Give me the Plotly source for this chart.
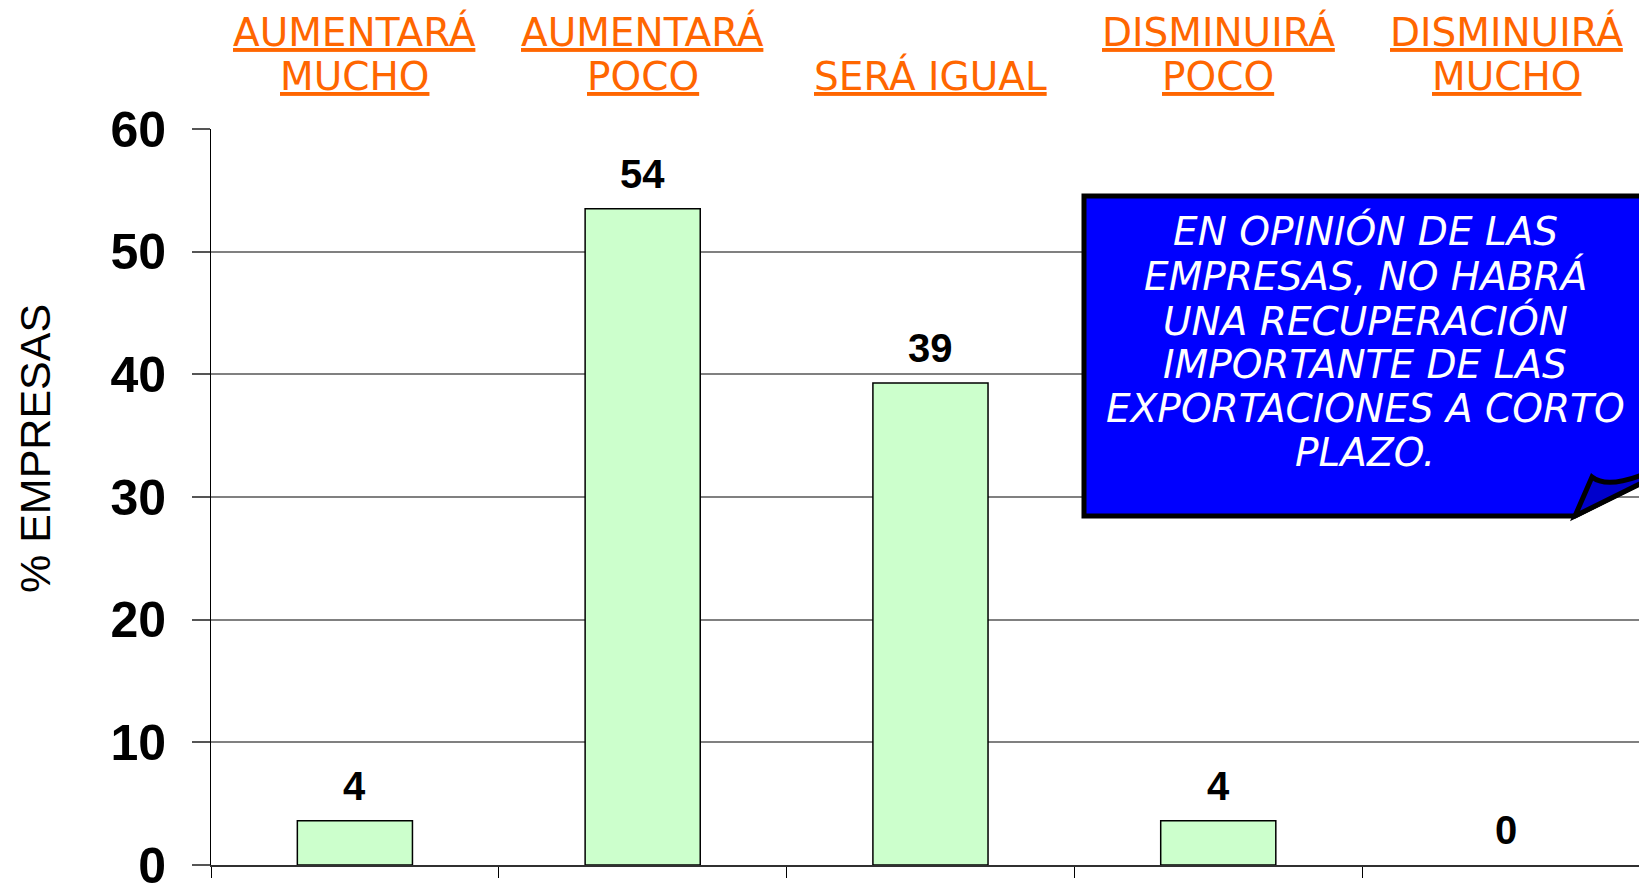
import plotly.graph_objects as go

# ---------------- data ----------------
categories = ["AUMENTARÁ MUCHO", "AUMENTARÁ POCO", "SERÁ IGUAL", "DISMINUIRÁ POCO", "DISMINUIRÁ MUCHO"]
header_line1 = ["AUMENTARÁ", "AUMENTARÁ", "", "DISMINUIRÁ", "DISMINUIRÁ"]
header_line2 = ["MUCHO", "POCO", "SERÁ IGUAL", "POCO", "MUCHO"]
values = [3.6, 53.5, 39.3, 3.6, 0.0]
value_labels = ["4", "54", "39", "4", "0"]
y_ticks = [0, 10, 20, 30, 40, 50, 60]
y_title = "% EMPRESAS"
note_lines = [
    "EN OPINIÓN DE LAS",
    "EMPRESAS, NO HABRÁ",
    "UNA RECUPERACIÓN",
    "IMPORTANTE DE LAS",
    "EXPORTACIONES A CORTO",
    "PLAZO.",
]

# ---------------- layout helpers ----------------
W, H = 1639, 883
L, R, T, B = 211, 0, 129, 18
PW, PH = W - L - R, H - T - B


def px(x):
    return (x - L) / PW


def py(y):
    return (H - B - y) / PH


def path(points, closed=True):
    s = ""
    for i, p in enumerate(points):
        if p[0] == "Q":
            s += f" Q {px(p[1]):.5f},{py(p[2]):.5f} {px(p[3]):.5f},{py(p[4]):.5f}"
        else:
            s += (" M " if i == 0 else " L ") + f"{px(p[0]):.5f},{py(p[1]):.5f}"
    return s + (" Z" if closed else "")


ORANGE = "#FF6600"

fig = go.Figure()
fig.add_trace(go.Bar(
    x=categories, y=values, width=0.4,
    marker=dict(color="#CCFFCC",
                line=dict(color="black", width=[1.5 if v > 0 else 0 for v in values])),
    hoverinfo="skip",
))

annotations = []
# value labels
for c, v, t in zip(categories, values, value_labels):
    annotations.append(dict(
        x=c, y=v, xref="x", yref="y", text=t, showarrow=False,
        yanchor="middle", yshift=35,
        font=dict(family="Liberation Sans, Arial", size=40, color="black", weight="bold"),
    ))
# header labels
for c, l1, l2 in zip(categories, header_line1, header_line2):
    for txt, base in ((l1, 46), (l2, 90)):
        if not txt:
            continue
        annotations.append(dict(
            x=c, y=py(base - 13.8), xref="x", yref="paper", text=f"<u>{txt}</u>",
            showarrow=False, xanchor="center", yanchor="middle",
            font=dict(family="DejaVu Sans", size=39, color=ORANGE),
        ))
# y title
annotations.append(dict(
    x=px(35), y=py(449), xref="paper", yref="paper", text=y_title, textangle=-90,
    showarrow=False, xanchor="center", yanchor="middle",
    font=dict(family="Liberation Sans, Arial", size=43, color="black"),
))
# callout text
note_baselines = [245, 289.5, 334, 378, 422, 466]
for line, base in zip(note_lines, note_baselines):
    annotations.append(dict(
        x=px(1365), y=py(base - 13.5), xref="paper", yref="paper", text=line,
        showarrow=False, xanchor="center", yanchor="middle",
        font=dict(family="DejaVu Sans", size=39, color="white", style="italic"),
    ))

shapes = [
    dict(type="path", xref="paper", yref="paper", layer="above",
         path=path([(1084, 196), (1665, 196), (1665, 471), (1575, 516), (1084, 516)]),
         fillcolor="#0000FF", line=dict(color="black", width=5)),
    dict(type="path", xref="paper", yref="paper", layer="above",
         path=path([(1575, 516), (1592, 477), ("Q", 1606, 488, 1639, 476), (1668, 470)]),
         fillcolor="#0000CC", line=dict(color="black", width=5)),
]

fig.update_layout(
    width=W, height=H,
    margin=dict(l=L, r=R, t=T, b=B, autoexpand=False),
    paper_bgcolor="white", plot_bgcolor="white",
    showlegend=False,
    annotations=annotations,
    shapes=shapes,
)
fig.update_xaxes(
    type="category", range=[-0.5, 4.462], showticklabels=False,
    showline=True, linecolor="#303030", linewidth=2,
    ticks="outside", tickson="boundaries", ticklen=11, tickcolor="black", tickwidth=1,
    showgrid=False, zeroline=False, fixedrange=True,
)
fig.update_yaxes(
    range=[0, 60], tickvals=y_ticks, ticktext=[str(t) for t in y_ticks],
    showline=True, linecolor="black", linewidth=1,
    ticks="outside", ticklen=18, tickcolor="#555555", tickwidth=1.5,
    ticklabelstandoff=16, ticklabeloverflow="allow",
    tickfont=dict(family="Liberation Sans, Arial", size=50, color="black", weight="bold"),
    showgrid=True, gridcolor="#808080", gridwidth=1.5, zeroline=False, fixedrange=True,
)

fig.write_html(
    "out.html",
    config={"displayModeBar": False},
    post_script="document.body.style.margin='0';document.body.style.overflow='hidden';",
)
